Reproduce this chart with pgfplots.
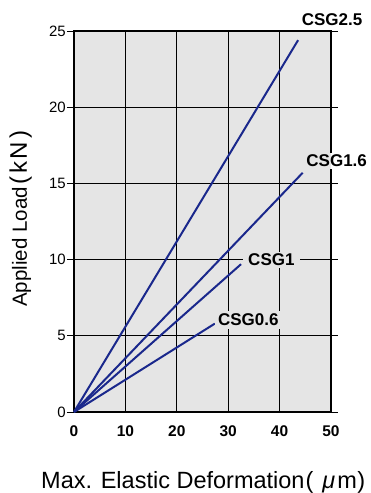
\documentclass[border=0pt]{standalone}
\usepackage{fontspec}
\setmainfont{Liberation Sans}
\usepackage{pgfplots}
\pgfplotsset{compat=1.18}
\definecolor{bg}{RGB}{229,229,229}
\definecolor{ln}{RGB}{26,40,140}
\begin{document}
\begin{tikzpicture}[x=1pt,y=1pt]
\begin{axis}[
 at={(74pt,81pt)}, anchor=south west,
 width=257pt, height=381pt, scale only axis,
 xmin=0, xmax=50, ymin=0, ymax=25,
 xtick={0,10,...,50}, ytick={0,5,...,25},
 grid=major, major grid style={black, line width=0.8pt},
 axis line style={black, line width=2pt},
 axis background/.style={fill=bg},
 tick align=outside,
 x tick style={draw=none},
 y tick style={black, line width=0.8pt},
 major tick length=7pt,
 xticklabel style={font=\fontsize{15.5}{18}\selectfont\bfseries, yshift=-3pt},
 yticklabel style={font=\fontsize{15}{18}\selectfont, inner sep=1pt},
 /pgf/number format/assume math mode=true,
 clip=false,
]
\addplot[ln, line width=2pt] coordinates {(0,0) (43.6,24.4)};
\addplot[ln, line width=2pt] coordinates {(0,0) (44.5,15.7)};
\addplot[ln, line width=2pt] coordinates {(0,0) (32.5,9.7)};
\addplot[ln, line width=2pt] coordinates {(0,0) (27.4,5.8)};
\coordinate (SW) at (axis cs:0,0);
\coordinate (NE) at (axis cs:50,25);
\coordinate (SE) at (axis cs:50,0);
\coordinate (L25) at (axis cs:50.2,25.75);
\coordinate (L16) at (axis cs:51.1,16.5);
\coordinate (L10) at (axis cs:38.4,9.97);
\coordinate (L06) at (axis cs:33.9,6.04);
\end{axis}
\tikzset{lab/.style={font=\fontsize{17}{20}\selectfont\bfseries}}
\node[lab] at (L25) {CSG2.5};
\node[lab, fill=bg, inner xsep=5pt, inner ysep=2pt] at (L10) {CSG1};
\node[lab, fill=bg, inner xsep=3pt, inner ysep=3pt] at (L06) {CSG0.6};
\begin{scope}
\clip (SW) rectangle (NE);
\node[lab, fill=bg, inner sep=2pt] at (L16) {\phantom{CSG1.6}};
\end{scope}
\begin{scope}
\clip (SE) rectangle ([xshift=60pt]NE);
\node[lab, fill=white, inner sep=2pt] at (L16) {\phantom{CSG1.6}};
\end{scope}
\node[lab] at (L16) {CSG1.6};
\node[anchor=base west, inner sep=0pt, font=\fontsize{23.5}{26}\selectfont] at (41pt,5pt)
  {Max. Elastic Deformation\hspace{1pt}(\hspace{9pt}\textit{μ}\hspace{2pt}m\hspace{0.5pt})};
\node[anchor=base west, inner sep=0pt, rotate=90, font=\fontsize{20.5}{24}\selectfont] at (27pt,186pt)
  {Applied Load\hspace{3pt}{\fontsize{24}{26}\selectfont(\hspace{3pt}k\hspace{1.5pt}N\hspace{4pt})}};
\pgfresetboundingbox
\path (0,0) rectangle (371pt,493pt);
\end{tikzpicture}
\end{document}
